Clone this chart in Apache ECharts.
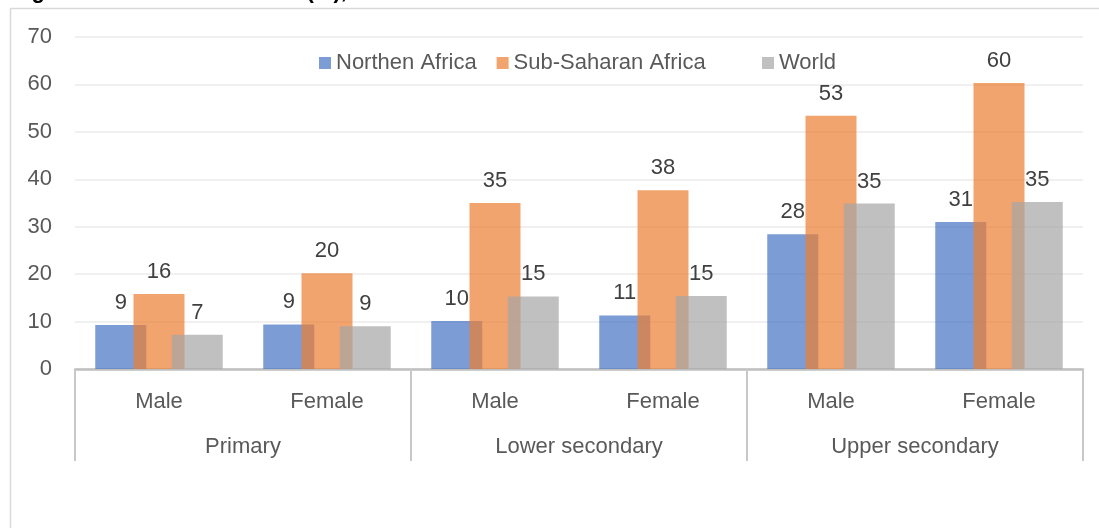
<!DOCTYPE html>
<html>
<head>
<meta charset="utf-8">
<script src="https://cdn.jsdelivr.net/npm/echarts@6/dist/echarts.min.js"></script>
<style>
    html, body { margin: 0; padding: 0; background: #fff; }
    #chart { width: 1099px; height: 528px; }
</style>
</head>
<body>
<div id="chart"></div>
<script>
    // 数据
    var sexLabels = ['Male', 'Female', 'Male', 'Female', 'Male', 'Female'];
    var levelLabels = ['Primary', 'Lower secondary', 'Upper secondary'];
    var northernAfrica = [9.3, 9.4, 10.1, 11.3, 28.4, 31.0];
    var subSaharanAfrica = [15.8, 20.2, 35.0, 37.7, 53.4, 60.3];
    var world = [7.2, 9.0, 15.3, 15.4, 34.9, 35.2];
    var yTicks = [0, 70, 10]; // min, max, interval

    var fontFam = '"Liberation Sans", "DejaVu Sans", sans-serif';
    var textColor = '#595959';
    var fs = 22;

    function barSeries(name, data, color) {
        return {
            name: name,
            type: 'bar',
            barWidth: 51,
            barGap: '-25%',
            data: data,
            itemStyle: { color: color },   // 半透明，重叠处颜色加深
            label: {
                show: true,
                position: 'top',
                distance: 11,
                color: '#404040',
                fontSize: fs,
                fontFamily: fontFam,
                formatter: function (p) { return Math.round(p.value); }
            }
        };
    }

    var legendText = { color: textColor, fontSize: fs, fontFamily: fontFam };

    var chart = echarts.init(document.getElementById('chart'));
    chart.setOption({
        animation: false,
        textStyle: { fontFamily: fontFam },
        graphic: [
            {
                type: 'rect',
                shape: { x: 10.5, y: 8.5, width: 1200, height: 700 },
                style: { fill: 'none', stroke: '#d9d9d9', lineWidth: 1.5 },
                silent: true
            },
            {
                type: 'text',
                x: 12,
                y: 3,
                style: {
                    text: 'Figure 3. Out-of-school rate (%), 2018',
                    font: 'bold 22px ' + fontFam,
                    fill: '#000',
                    verticalAlign: 'bottom'
                },
                silent: true
            }
        ],
        legend: [
            {
                top: 47,
                left: 314,
                itemWidth: 12,
                itemHeight: 12,
                itemGap: 20,
                icon: 'rect',
                textStyle: legendText,
                data: ['Northen Africa', 'Sub-Saharan Africa']
            },
            {
                top: 47,
                left: 757,
                itemWidth: 12,
                itemHeight: 12,
                icon: 'rect',
                textStyle: legendText,
                data: ['World']
            }
        ],
        grid: { left: 75, right: 16, top: 37, bottom: 159 },
        xAxis: [
            {
                type: 'category',
                data: sexLabels,
                position: 'bottom',
                axisLine: { show: true, lineStyle: { color: '#bfbfbf', width: 2.5 } },
                axisTick: { show: false },
                axisLabel: { color: textColor, fontSize: fs, margin: 22, interval: 0 }
            },
            {
                type: 'category',
                data: levelLabels,
                position: 'bottom',
                axisLine: { show: false },
                axisTick: { show: true, length: 92, lineStyle: { color: '#c8c8c8', width: 2 } },
                axisLabel: { color: textColor, fontSize: fs, margin: 67, interval: 0 }
            }
        ],
        yAxis: {
            type: 'value',
            min: yTicks[0],
            max: yTicks[1],
            interval: yTicks[2],
            axisLine: { show: false },
            axisTick: { show: false },
            axisLabel: { color: textColor, fontSize: fs, margin: 23 },
            splitLine: { lineStyle: { color: '#ebebeb', width: 1.5 } }
        },
        series: [
            barSeries('Northen Africa', northernAfrica, 'rgba(68,114,196,0.7)'),
            barSeries('Sub-Saharan Africa', subSaharanAfrica, 'rgba(237,125,49,0.7)'),
            barSeries('World', world, 'rgba(165,165,165,0.7)')
        ]
    });
</script>
</body>
</html>
